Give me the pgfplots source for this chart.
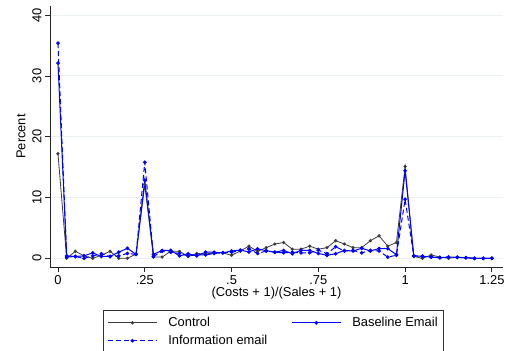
\documentclass[border=0pt]{standalone}
\usepackage{fontspec}
\setmainfont{Liberation Sans}
\usepackage{pgfplots}
\usepackage{pgfplotstable}
\pgfplotsset{compat=1.18}

\definecolor{gridcol}{RGB}{234,242,243}
\definecolor{ctrlcol}{RGB}{60,60,60}
\definecolor{emailblue}{RGB}{0,0,255}

% Share of firms by cost-to-sales ratio, bins of width 0.025
\pgfplotstableread{
x      y
0      17.2
0.025  0
0.05   1.15
0.075  0.4
0.1    0
0.125  0.5
0.15   1.15
0.175  0
0.2    0
0.225  0.7
0.25   12.1
0.275  0.2
0.3    0.2
0.325  1.15
0.35   1.15
0.375  0.3
0.4    0.8
0.425  0.7
0.45   0.9
0.475  0.9
0.5    0.5
0.525  1.2
0.55   2.0
0.575  1.15
0.6    1.75
0.625  2.35
0.65   2.6
0.675  1.5
0.7    1.5
0.725  2.0
0.75   1.5
0.775  1.75
0.8    2.9
0.825  2.35
0.85   1.75
0.875  1.75
0.9    2.9
0.925  3.7
0.95   2.0
0.975  2.6
1      15.1
1.025  0.3
1.05   0
1.075  0.55
1.1    0.2
1.125  0
1.15   0.2
1.175  0.1
1.2    0
1.225  0
1.25   0
}\control

\pgfplotstableread{
x      y
0      32.1
0.025  0.4
0.05   0.3
0.075  0.4
0.1    0.9
0.125  0.3
0.15   0.3
0.175  1.0
0.2    1.65
0.225  0.65
0.25   12.8
0.275  0.65
0.3    1.3
0.325  1.3
0.35   0.4
0.375  0.75
0.4    0.4
0.425  1.0
0.45   1.0
0.475  0.9
0.5    1.2
0.525  1.35
0.55   1.05
0.575  1.55
0.6    1.25
0.625  1.0
0.65   1.3
0.675  0.75
0.7    1.3
0.725  1.3
0.75   0.8
0.775  0.5
0.8    0.75
0.825  1.3
0.85   1.2
0.875  1.65
0.9    1.2
0.925  1.6
0.95   1.6
0.975  0.6
1      14.4
1.025  0.4
1.05   0.35
1.075  0.2
1.1    0.1
1.125  0.2
1.15   0.15
1.175  0.1
1.2    0
1.225  0
1.25   0
}\baseline

\pgfplotstableread{
x      y
0      35.4
0.025  0.2
0.05   0.3
0.075  0
0.1    0.4
0.125  0.75
0.15   0.3
0.175  0.4
0.2    0.8
0.225  0.65
0.25   15.8
0.275  0.3
0.3    1.15
0.325  1.0
0.35   0.8
0.375  0.4
0.4    0.55
0.425  0.55
0.45   0.8
0.475  0.9
0.5    1.0
0.525  1.25
0.55   1.55
0.575  0.8
0.6    1.2
0.625  1.0
0.65   0.9
0.675  1.0
0.7    0.9
0.725  0.9
0.75   1.35
0.775  0.75
0.8    1.9
0.825  1.2
0.85   1.3
0.875  0.9
0.9    1.3
0.925  1.2
0.95   0.2
0.975  0.5
1      9.7
1.025  0.4
1.05   0.3
1.075  0.2
1.1    0.1
1.125  0.2
1.15   0.15
1.175  0.1
1.2    0
1.225  0
1.25   0
}\information

\begin{document}
\begin{tikzpicture}[font=\fontsize{12.9}{15.5}\selectfont]
\useasboundingbox (-50pt,-84pt) rectangle (457pt,267pt);
\clip (-50pt,-84pt) rectangle (457pt,267pt);
\begin{axis}[
  at={(0pt,0pt)}, anchor=south west,
  scale only axis,
  width=453pt, height=261pt,
  xmin=-0.023, xmax=1.282,
  ymin=-1.43, ymax=41.5,
  axis x line*=bottom, axis y line*=left,
  axis line style={black!85, line width=0.8pt},
  tick align=outside,
  major tick length=5pt,
  tick style={black!85, line width=0.8pt},
  xtick={0,0.25,0.5,0.75,1,1.25},
  xticklabels={0,.25,.5,.75,1,1.25},
  ytick={0,10,20,30,40},
  yticklabels={0,10,20,30,40},
  yticklabel style={rotate=90, anchor=south},
  ymajorgrids,
  major grid style={gridcol, line width=1pt},
  xlabel={(Costs + 1)/(Sales + 1)},
  ylabel={Percent},
  xlabel style={yshift=4pt},
  ylabel style={yshift=0pt},
  clip=false,
  legend columns=2,
  legend cell align=left,
  legend image code/.code={
    \draw[mark repeat=2, mark phase=2, #1]
      plot coordinates {(0pt,0pt) (24.5pt,0pt) (49pt,0pt)};
  },
  legend style={
    at={(0.117,-0.1648)}, anchor=north west,
    draw=black!80, line width=0.8pt,
    inner xsep=4pt, inner ysep=5pt,
    row sep=3pt,
    /tikz/every odd column/.append style={column sep=9pt},
    /tikz/every even column/.append style={column sep=22pt},
    font=\fontsize{12.9}{15.5}\selectfont,
  },
]
\addplot[ctrlcol, line width=0.8pt, mark=*, mark size=1.2pt]
  table[x=x, y=y] {\control};
\addlegendentry{Control}
\addplot[emailblue, line width=1pt, mark=*, mark size=1.3pt]
  table[x=x, y=y] {\baseline};
\addlegendentry{Baseline Email}
\addplot[emailblue, line width=1pt, dash pattern=on 5pt off 3pt,
  mark=*, mark size=1.3pt, mark options={solid}]
  table[x=x, y=y] {\information};
\addlegendentry{Information email}
\end{axis}
\end{tikzpicture}
\end{document}
